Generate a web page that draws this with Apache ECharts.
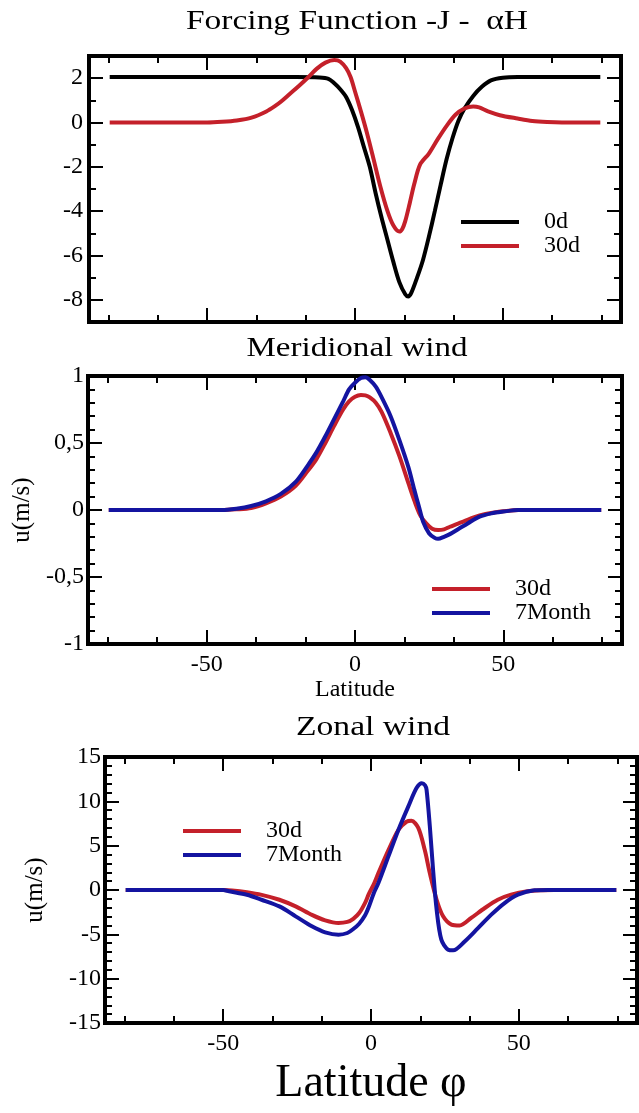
<!DOCTYPE html>
<html>
<head>
<meta charset="utf-8">
<script src="https://cdn.jsdelivr.net/npm/echarts@6/dist/echarts.min.js"></script>
<style>
  html, body { margin: 0; background: #fff; }
  #chart { width: 639px; height: 1113px; }
</style>
</head>
<body>
<div id="chart"></div>
<script>
// ---- data ----
// forcing function, 0d
const latForcing0d = [-83, -40, -20, -12, -9, -7, -5, -3, -1, 1, 3, 5, 7, 9, 11, 13, 15, 17, 18, 19, 21, 23, 25, 27, 29, 31, 33, 35, 37, 40, 43, 46, 50, 55, 83];
const forcing0d = [2.05, 2.05, 2.05, 2.03, 1.97, 1.77, 1.5, 1.15, 0.56, -0.2, -1.1, -2.0, -3.2, -4.3, -5.3, -6.3, -7.2, -7.75, -7.85, -7.7, -7.0, -6.2, -5.15, -4.0, -2.8, -1.65, -0.7, 0.08, 0.62, 1.2, 1.62, 1.9, 2.02, 2.05, 2.05];
// forcing function, 30d
const latForcing30d = [-83, -50, -45, -40, -35, -30, -27, -25, -22, -19, -16, -13, -10, -7, -5, -3, -1.5, 0, 2, 4, 6, 8.5, 11, 13, 15, 16, 17, 18.5, 20, 22, 25, 28, 31, 34, 37, 40, 42, 45, 49, 55, 60, 65, 70, 83];
const forcing30d = [0, 0, 0.03, 0.09, 0.22, 0.5, 0.75, 0.95, 1.3, 1.65, 2.02, 2.42, 2.7, 2.82, 2.75, 2.45, 2.05, 1.4, 0.5, -0.45, -1.5, -2.85, -4.0, -4.65, -4.92, -4.8, -4.45, -3.65, -2.8, -1.9, -1.4, -0.75, -0.15, 0.35, 0.63, 0.72, 0.68, 0.5, 0.33, 0.18, 0.07, 0.02, 0, 0];

// meridional wind
const latMerid30d = [-83, -45, -40, -35, -30, -25, -20, -16, -13, -10, -7, -4, -2, 0, 2, 3.5, 5, 7, 9, 12, 15, 18, 20, 22, 24, 26, 28, 30, 32, 36, 40, 44, 48, 55, 83];
const merid30d = [0, 0, 0.005, 0.015, 0.05, 0.1, 0.18, 0.29, 0.38, 0.5, 0.63, 0.75, 0.81, 0.845, 0.858, 0.855, 0.84, 0.8, 0.73, 0.575, 0.4, 0.2, 0.07, -0.04, -0.1, -0.14, -0.15, -0.145, -0.125, -0.09, -0.055, -0.03, -0.015, 0, 0];
const latMerid7m = [-83, -45, -40, -35, -30, -25, -20, -16, -13, -10, -7, -4, -2, 0, 2, 3.5, 5, 7, 9, 12, 15, 18, 20, 21.5, 23, 25, 27, 28, 30, 32, 35, 38, 42, 46, 50, 55, 83];
const merid7m = [0, 0, 0.01, 0.03, 0.065, 0.12, 0.21, 0.33, 0.43, 0.55, 0.68, 0.81, 0.9, 0.95, 0.985, 0.99, 0.97, 0.92, 0.84, 0.7, 0.52, 0.32, 0.15, 0.03, -0.09, -0.175, -0.21, -0.215, -0.2, -0.18, -0.14, -0.1, -0.05, -0.025, -0.012, 0, 0];

// zonal wind
const latZonal30d = [-83, -50, -47, -42, -37, -31, -25.5, -20, -15.5, -11, -8, -6, -4, -2, -0.8, 1, 2.5, 5.9, 9.3, 12, 13.7, 16, 18.2, 19.9, 22.2, 24.4, 27.2, 30, 33.9, 38.5, 42.9, 47.4, 53, 58, 62, 83];
const zonal30d = [0, 0, -0.05, -0.25, -0.55, -1.1, -1.85, -2.8, -3.42, -3.72, -3.6, -3.25, -2.6, -1.45, -0.5, 0.7, 1.9, 4.5, 6.8, 7.7, 7.8, 7.0, 4.5, 1.9, -1.1, -2.97, -3.9, -4.0, -3.15, -2.03, -1.1, -0.53, -0.15, -0.03, 0, 0];
const latZonal7m = [-83, -50, -48, -42, -37, -31, -25.5, -20, -15.5, -11, -8, -6, -4, -2, -0.8, 1, 2.5, 5.9, 9.3, 12.6, 15.4, 17.2, 18.3, 18.8, 19.9, 21, 22.2, 23.8, 26.1, 27.8, 31.7, 36.2, 40.7, 45.2, 49.7, 55.3, 60, 83];
const zonal7m = [0, 0, -0.15, -0.53, -1.1, -1.85, -2.97, -4.1, -4.78, -5.04, -4.85, -4.4, -3.8, -2.85, -1.95, -0.3, 0.79, 3.8, 6.8, 9.4, 11.5, 12.05, 11.8, 11.3, 7.2, 2.3, -2.2, -5.6, -6.73, -6.8, -5.8, -4.3, -2.78, -1.47, -0.53, -0.04, 0, 0];

// ---- ticks and labels ----
const latMajorTicks = [-50, 0, 50];
const latMinorTicks = [-83.33, -66.67, -33.33, -16.67, 16.67, 33.33, 66.67, 83.33];
const latLabels = [-50, 0, 50];
const forcingMajorTicks = [2, 0, -2, -4, -6, -8];
const forcingMinorTicks = [1, -1, -3, -5, -7];
const meridMajorTicks = [1, 0.5, 0, -0.5, -1];
const meridMinorTicks = [0.9, 0.8, 0.7, 0.6, 0.4, 0.3, 0.2, 0.1, -0.1, -0.2, -0.3, -0.4, -0.6, -0.7, -0.8, -0.9];
const zonalMajorTicks = [15, 10, 5, 0, -5, -10, -15];
const zonalMinorTicks = [14, 13, 12, 11, 9, 8, 7, 6, 4, 3, 2, 1, -1, -2, -3, -4, -6, -7, -8, -9, -11, -12, -13, -14];

const FONT = '"Liberation Serif", "Times New Roman", serif';
const RED = "#c4202a";
const BLUE = "#1414a0";

const xAxes = [];
const yAxes = [];

// one frame side = a major tick axis + a minor tick axis, ticks pointing inward
function addAxes(list, dim, gridIndex, min, max, major, minor, label, extra) {
  const sides = dim === "x" ? ["bottom", "top"] : ["left", "right"];
  const first = list.length;
  sides.forEach((side, s) => {
    [major, minor].forEach((ticks, m) => {
      const axis = {
        type: "value",
        gridIndex: gridIndex,
        position: side,
        min: min,
        max: max,
        axisLine: { show: false, onZero: false },
        splitLine: { show: false },
        axisTick: {
          show: true,
          inside: true,
          length: m === 0 ? 14 : 7,
          customValues: ticks,
          lineStyle: { color: "#000", width: 2 },
        },
        axisLabel: { show: false },
      };
      if (s === 0 && m === 0) {
        if (label) {
          axis.axisLabel = Object.assign({
            show: true,
            color: "#000",
            fontFamily: FONT,
            fontSize: 24,
          }, label);
        }
        if (extra) Object.assign(axis, extra);
      }
      list.push(axis);
    });
  });
  return first;
}

const comma = (v) => String(v).replace(".", ",");

// panel 1: forcing function
const x0 = addAxes(xAxes, "x", 0, -90, 90, latMajorTicks, latMinorTicks, null);
const y0 = addAxes(yAxes, "y", 0, -9, 3, forcingMajorTicks, forcingMinorTicks,
  { customValues: forcingMajorTicks, margin: 6 });
// panel 2: meridional wind
const x1 = addAxes(xAxes, "x", 1, -90, 90, latMajorTicks, latMinorTicks,
  { customValues: latLabels, margin: 9 },
  { name: "Latitude", nameLocation: "middle", nameGap: 33,
    nameTextStyle: { fontFamily: FONT, fontSize: 24, color: "#000" } });
const y1 = addAxes(yAxes, "y", 1, -1, 1, meridMajorTicks, meridMinorTicks,
  { customValues: meridMajorTicks, margin: 4, formatter: comma },
  { name: "u(m/s)", nameLocation: "middle", nameGap: 53,
    nameTextStyle: { fontFamily: FONT, fontSize: 25, color: "#000" } });
// panel 3: zonal wind
const x2 = addAxes(xAxes, "x", 2, -90, 90, latMajorTicks, latMinorTicks,
  { customValues: latLabels, margin: 9 },
  { name: "Latitude φ", nameLocation: "middle", nameGap: 38,
    nameTextStyle: { fontFamily: FONT, fontSize: 46, color: "#000" } });
const y2 = addAxes(yAxes, "y", 2, -15, 15, zonalMajorTicks, zonalMinorTicks,
  { customValues: zonalMajorTicks, margin: 4 },
  { name: "u(m/s)", nameLocation: "middle", nameGap: 57,
    nameTextStyle: { fontFamily: FONT, fontSize: 25, color: "#000" } });

function zip(xs, ys) {
  return xs.map((x, i) => [x, ys[i]]);
}

function line(name, color, xi, yi, xs, ys) {
  return {
    name: name,
    type: "line",
    xAxisIndex: xi,
    yAxisIndex: yi,
    data: zip(xs, ys),
    showSymbol: false,
    smooth: 0.3,
    lineStyle: { color: color, width: 4 },
    itemStyle: { color: color },
  };
}

function legendBox(names, left, top, lineHeight) {
  return {
    data: names,
    left: left,
    top: top,
    orient: "vertical",
    padding: 0,
    itemGap: 0,
    itemWidth: 58,
    itemHeight: 4,
    icon: "rect",
    selectedMode: false,
    textStyle: {
      fontFamily: FONT,
      fontSize: 24,
      color: "#000",
      lineHeight: lineHeight,
      padding: [0, 0, 0, 20],
    },
  };
}

function title(text, x, y, size, sx) {
  return {
    type: "text",
    x: x,
    y: y,
    scaleX: sx,
    style: {
      text: text,
      font: size + "px " + FONT,
      fill: "#000",
      textAlign: "center",
      align: "center",
      textVerticalAlign: "middle",
      verticalAlign: "middle",
    },
  };
}

const frame = { show: true, borderColor: "#000", borderWidth: 4, backgroundColor: "#fff" };

const chart = echarts.init(document.getElementById("chart"));
chart.setOption({
  animation: false,
  backgroundColor: "#fff",
  textStyle: { fontFamily: FONT },
  grid: [
    Object.assign({ left: 89, top: 56, width: 532, height: 266 }, frame),
    Object.assign({ left: 88, top: 376, width: 534, height: 268 }, frame),
    Object.assign({ left: 105, top: 757, width: 532, height: 266 }, frame),
  ],
  xAxis: xAxes,
  yAxis: yAxes,
  legend: [
    legendBox(["0d", "30d"], 461, 210, 18),
    legendBox(["30d", "7Month"], 432, 577, 17),
    legendBox(["30d", "7Month"], 183, 819, 17),
  ],
  graphic: [
    title("Forcing Function -J -  αH", 357, 22, 27, 1.24),
    title("Meridional wind", 357, 349, 28, 1.18),
    title("Zonal wind", 373, 728, 28, 1.2),
  ],
  series: [
    line("0d", "#000", x0, y0, latForcing0d, forcing0d),
    line("30d", RED, x0, y0, latForcing30d, forcing30d),
    line("30d", RED, x1, y1, latMerid30d, merid30d),
    line("7Month", BLUE, x1, y1, latMerid7m, merid7m),
    line("30d", RED, x2, y2, latZonal30d, zonal30d),
    line("7Month", BLUE, x2, y2, latZonal7m, zonal7m),
  ],
});
</script>
</body>
</html>
